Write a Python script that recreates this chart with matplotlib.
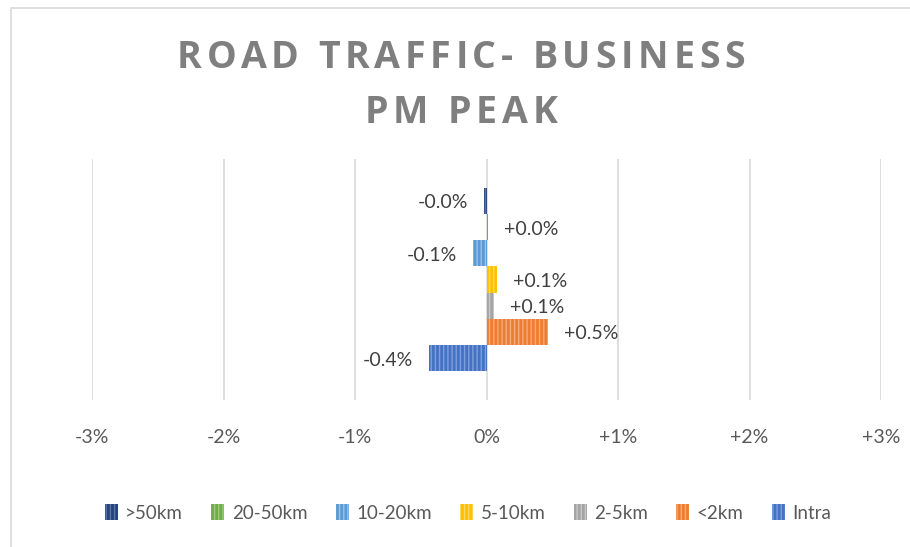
import matplotlib.pyplot as plt
from matplotlib.patches import Rectangle

plt.rcParams['font.family'] = ['Lato', 'DejaVu Sans']
plt.rcParams['hatch.linewidth'] = 1.0

# distance bands, top to bottom as drawn
bands = ['>50km', '20-50km', '10-20km', '5-10km', '2-5km', '<2km', 'Intra']
change_pct = [-0.02, 0.015, -0.10, 0.08, 0.06, 0.47, -0.44]
colors = ['#264478', '#70AD47', '#5B9BD5', '#FFC000', '#A5A5A5', '#ED7D31', '#4472C4']
stripes = ['#5a74a8', '#9cc97e', '#9cc3e8', '#ffd866', '#c8c8c8', '#f5ab7a', '#7f9fdb']
x_ticks = [-3, -2, -1, 0, 1, 2, 3]
x_labels = ['-3%', '-2%', '-1%', '0%', '+1%', '+2%', '+3%']
title_lines = ['ROAD TRAFFIC- BUSINESS', 'PM PEAK']

W, H = 910, 547
fig = plt.figure(figsize=(W / 100, H / 100), dpi=100)
renderer = fig.canvas.get_renderer()

# chart border (left and top edges show)
fig.patches.append(Rectangle((11 / W, -0.1), 1.2, 1 - 8 / H + 0.1,
                             transform=fig.transFigure, fill=False,
                             edgecolor='#d9d9d9', linewidth=1.2))


def text_width(s, **kw):
    t = fig.text(0, 0, s, **kw)
    w = t.get_window_extent(renderer).width
    t.remove()
    return w


def spaced_line(s, cx, baseline, spacing, **kw):
    # draw a line of text char by char with extra tracking, centred on cx (pixels)
    sp_w = text_width('a a', **kw) - text_width('aa', **kw)
    lefts = []
    for k in range(len(s)):
        pre = s[:k]
        if pre == '':
            x = 0
        elif pre.endswith(' '):
            x = text_width(pre.rstrip(), **kw) + sp_w * (len(pre) - len(pre.rstrip()))
        else:
            x = text_width(pre, **kw)
        lefts.append(x + spacing * k)
    total = lefts[-1] + text_width(s[-1], **kw)
    x0 = cx - total / 2
    for ch, x in zip(s, lefts):
        if ch != ' ':
            fig.text((x0 + x) / W, 1 - baseline / H, ch, ha='left', va='baseline', **kw)


title_kw = dict(fontsize=27, fontweight='bold', color='#7f7f7f',
                family=['Open Sans', 'DejaVu Sans'])
natural = text_width(title_lines[0], **title_kw)
tracking = (568 - natural) / (len(title_lines[0]) - 1)
spaced_line(title_lines[0], 461, 68, tracking, **title_kw)
spaced_line(title_lines[1], 461, 123, tracking, **title_kw)

ax = fig.add_axes([92 / W, 1 - 400 / H, 789 / W, 241 / H])

n = len(bands)
handles = []
for i, (name, val, c, s) in enumerate(zip(bands, change_pct, colors, stripes)):
    y = n - 1 - i
    b = ax.barh(y, val, height=1.0, color=c, edgecolor=s, linewidth=0,
                hatch='||||', label=name, zorder=3)
    handles.append(b)
    off = 16 if val >= 0 else -16
    ax.annotate('{:+.1f}%'.format(val), (val, y), xytext=(off, -2),
                textcoords='offset pixels',
                ha='left' if val >= 0 else 'right', va='center',
                fontsize=14, color='#404040')

ax.set_xlim(-3, 3)
ax.set_ylim(-1.6, 7.6)
ax.set_xticks(x_ticks)
ax.set_xticklabels(x_labels, fontsize=14, color='#595959')
ax.set_yticks([])
ax.tick_params(axis='x', length=0, pad=21)
for sp in ax.spines.values():
    sp.set_visible(False)
ax.grid(axis='x', color='#d9d9d9', linewidth=1.2, zorder=0)
ax.set_axisbelow(True)

fig.legend(handles=handles, loc='center', bbox_to_anchor=(468 / W, 1 - 513 / H),
           ncol=7, frameon=False, fontsize=13.5, labelcolor='#595959',
           handlelength=0.7, handleheight=0.9, handletextpad=0.4, columnspacing=1.5)

fig.savefig('out.png', dpi=100)
